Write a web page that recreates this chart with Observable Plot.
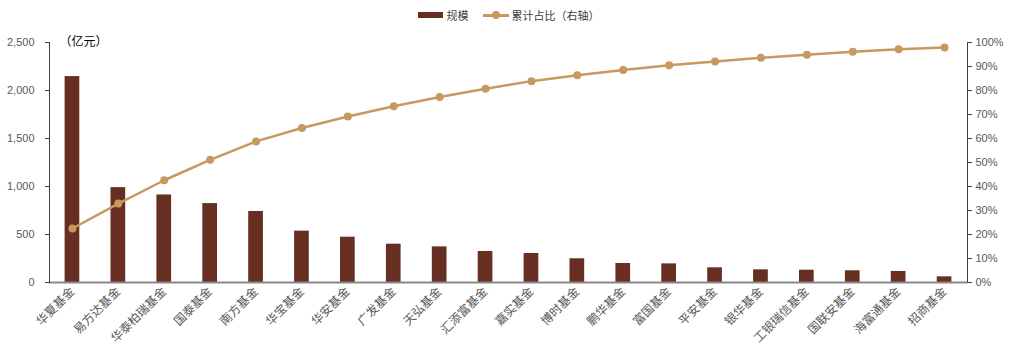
<!DOCTYPE html>
<html>
<head>
<meta charset="utf-8">
<script src="https://cdn.jsdelivr.net/npm/d3@7"></script>
<script src="https://cdn.jsdelivr.net/npm/@observablehq/plot@0.6"></script>
<style>
  html, body { margin: 0; padding: 0; background: #fff; }
  body { width: 1015px; height: 356px; overflow: hidden; font-family: "Liberation Sans", "Noto Sans CJK SC", sans-serif; }
  #legend { height: 30px; display: flex; justify-content: center; align-items: center; font-size: 11px; color: #404040; padding-left: 2px; box-sizing: border-box; font-family: "Noto Sans CJK SC", sans-serif; }
  .item { display: flex; align-items: center; margin: 0 7px; }
  .swBar { width: 25px; height: 6px; background: #662f21; margin-right: 4px; }
  .swLine { position: relative; width: 26px; height: 3px; background: #c8995f; margin-right: 3px; }
  .swLine::after { content: ""; position: absolute; left: 9px; top: -3px; width: 8px; height: 8px; border-radius: 50%; background: #c8995f; }
  #chart svg { display: block; }
</style>
</head>
<body>
<div id="legend">
  <div class="item"><span class="swBar"></span><span>规模</span></div>
  <div class="item"><span class="swLine"></span><span>累计占比（右轴）</span></div>
</div>
<div id="chart"></div>
<script>
const names = ["华夏基金","易方达基金","华泰柏瑞基金","国泰基金","南方基金","华宝基金","华安基金","广发基金","天弘基金","汇添富基金","嘉实基金","博时基金","鹏华基金","富国基金","平安基金","银华基金","工银瑞信基金","国联安基金","海富通基金","招商基金"];
const scale = [2145, 988, 912, 822, 740, 535, 472, 399, 371, 323, 302, 247, 198, 194, 153, 132, 128, 122, 115, 59];
const cumPct = [22.5, 32.9, 42.6, 51.1, 58.8, 64.4, 69.2, 73.4, 77.3, 80.7, 83.9, 86.4, 88.5, 90.5, 92.1, 93.6, 94.9, 96.1, 97.2, 97.9];
const leftTicks = [0, 500, 1000, 1500, 2000, 2500];
const rightTicks = [0, 10, 20, 30, 40, 50, 60, 70, 80, 90, 100];
const unitLabel = "（亿元）";

const data = names.map((name, i) => ({name, value: scale[i], pct: cumPct[i]}));
const yMax = leftTicks[leftTicks.length - 1];
const k = yMax / 100;

const barColor = "#662f21";
const lineColor = "#c8995f";
const textColor = "#595959";
const axisColor = "#404040";

const chart = Plot.plot({
  width: 1015,
  height: 326,
  marginTop: 12,
  marginBottom: 74,
  marginLeft: 49,
  marginRight: 48,
  style: { fontFamily: "'Liberation Sans', 'Noto Sans CJK SC', sans-serif", fontSize: "11px", background: "#fff" },
  x: { domain: names, paddingInner: 0.68, paddingOuter: 0.34, round: false, label: null },
  y: { domain: [0, yMax], label: null },
  marks: [
    Plot.barY(data, { x: "name", y: "value", fill: barColor }),
    Plot.ruleY([0], { stroke: "#888", strokeWidth: 2 }),
    Plot.frame({ anchor: "left", stroke: axisColor }),
    Plot.frame({ anchor: "right", stroke: axisColor }),
    Plot.axisY(leftTicks, { anchor: "left", tickSize: 4, tickPadding: 11, stroke: axisColor, fill: textColor, tickFormat: d3.format(","), label: null }),
    Plot.axisY(rightTicks.map(p => p * k), { anchor: "right", tickSize: 4, tickPadding: 4, stroke: axisColor, fill: textColor, tickFormat: d => Math.round(d / k) + "%", label: null }),
    Plot.axisX({ tickSize: 0, tickRotate: -45, tickPadding: 7, fill: textColor, fontSize: 12, fontFamily: "'Noto Sans CJK SC', sans-serif", label: null }),
    Plot.line(data, { x: "name", y: d => d.pct * k, stroke: lineColor, strokeWidth: 2.5 }),
    Plot.dot(data, { x: "name", y: d => d.pct * k, fill: lineColor, r: 4 }),
    Plot.text([unitLabel], { frameAnchor: "top-left", dx: 10, dy: 0, lineAnchor: "middle", textAnchor: "start", fill: "#000", fontSize: 12, fontFamily: "'Noto Sans CJK SC', sans-serif" })
  ]
});
document.getElementById("chart").appendChild(chart);
</script>
</body>
</html>
